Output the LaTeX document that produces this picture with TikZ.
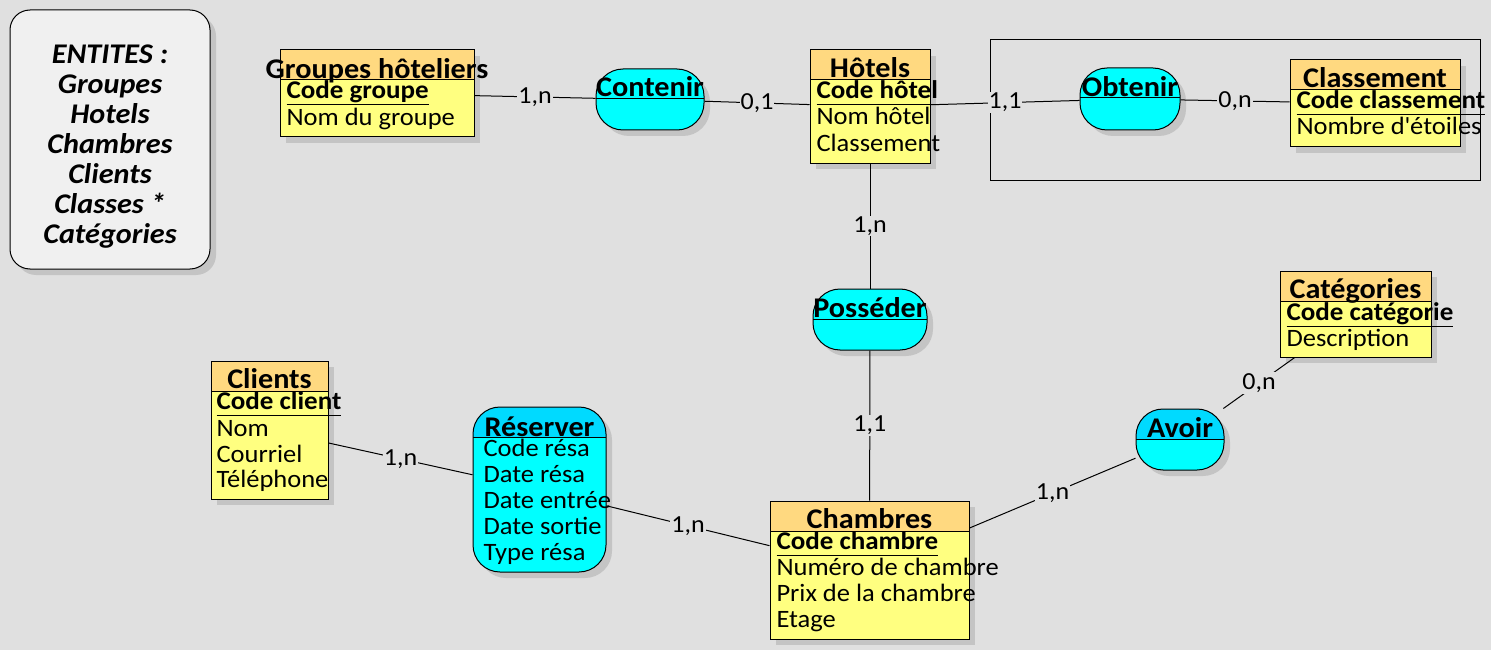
\documentclass[tikz,border=0pt]{standalone}
\usepackage{fontspec}
\setmainfont{Carlito}[FakeStretch=1.06]
\usetikzlibrary{shadows}

\definecolor{fond}{HTML}{E0E0E0}
\definecolor{entete}{HTML}{FFD980}
\definecolor{corps}{HTML}{FFFF80}
\definecolor{cyanrel}{HTML}{00FFFF}
\definecolor{cyantete}{HTML}{00DAFF}
\definecolor{gris}{HTML}{C4C4C4}
\definecolor{notefond}{HTML}{F0F0F0}

\newcommand{\souligne}[1]{\setbox0\hbox{#1}\rlap{\vrule width \wd0 height -5.5pt depth 6.5pt}\box0}

\tikzset{
  ombre/.style={drop shadow={shadow xshift=6pt, shadow yshift=-6pt, fill=gris, opacity=1}},
  entite/.style={draw, fill=corps, inner sep=0pt, ombre,
    path picture={
      \fill[entete] (path picture bounding box.north west) rectangle ([yshift=-30pt]path picture bounding box.north east);
      \draw ([yshift=-30pt]path picture bounding box.north west) -- ([yshift=-30pt]path picture bounding box.north east);}},
  relation/.style={draw, fill=cyanrel, rounded corners=27pt, inner sep=0pt, ombre,
    path picture={
      \fill[#1, sharp corners] (path picture bounding box.north west) rectangle ([yshift=-30pt]path picture bounding box.north east);
      \draw[sharp corners] ([yshift=-30pt]path picture bounding box.north west) -- ([yshift=-30pt]path picture bounding box.north east);}},
  relation/.default=cyanrel,
  notebox/.style={draw, fill=notefond, rounded corners=20pt, ombre},
  titre/.style={anchor=base, inner sep=0pt, font=\fontsize{28.5}{28}\selectfont\bfseries},
  attr/.style={anchor=base west, inner sep=0pt, font=\fontsize{25}{26}\selectfont},
  cle/.style={anchor=base west, inner sep=0pt, font=\fontsize{25.5}{26}\selectfont\bfseries},
  card/.style={midway, fill=fond, inner sep=1pt, font=\fontsize{24.5}{24}\selectfont},
}

\begin{document}
\begin{tikzpicture}[x=1pt, y=-1pt, line width=1pt]
  \fill[fond] (0,0) rectangle (1491,650);

  % liste des entites
  \node[notebox, minimum width=200pt, minimum height=259pt] (entites) at (110,139.5) {};
  \node[anchor=north, align=center, inner sep=0pt, font=\fontsize{28.5}{30}\selectfont\bfseries\itshape] at (110,44) {ENTITES :\\Groupes\\Hotels\\Chambres\\Clients\\Classes *\\Catégories};

  % entites
  \node[entite, minimum width=194pt, minimum height=87pt] (groupes) at (377,93.5) {};
  \node[titre] at (377,79) {Groupes hôteliers};
  \node[cle] at (286,99) {\souligne{Code groupe}};
  \node[attr] at (286,126) {Nom du groupe};

  \node[entite, minimum width=120pt, minimum height=113pt] (hotels) at (870,106.5) {};
  \node[titre] at (870,78) {Hôtels};
  \node[cle] at (816,99) {\souligne{Code hôtel}};
  \node[attr] at (816,125) {Nom hôtel};
  \node[attr] at (816,151) {Classement};

  \node[entite, minimum width=170pt, minimum height=87pt] (classement) at (1375,103.5) {};
  \node[titre] at (1375,88) {Classement};
  \node[cle] at (1296,109) {\souligne{Code classement}};
  \node[attr] at (1296,135) {Nombre d\textquotesingle étoiles};

  \node[entite, minimum width=151pt, minimum height=86pt] (categories) at (1355.5,314) {};
  \node[titre] at (1355.5,298) {Catégories};
  \node[cle] at (1286,320) {\souligne{Code catégorie}};
  \node[attr] at (1286,346) {Description};

  \node[entite, minimum width=117pt, minimum height=138pt] (clients) at (269.5,430) {};
  \node[titre] at (269.5,388) {Clients};
  \node[cle] at (216,409) {\souligne{Code client}};
  \node[attr] at (216,436) {Nom};
  \node[attr] at (216,462) {Courriel};
  \node[attr] at (216,487) {Téléphone};

  \node[entite, minimum width=199pt, minimum height=138pt] (chambres) at (869.5,570) {};
  \node[titre] at (869.5,528) {Chambres};
  \node[cle] at (776,549) {\souligne{Code chambre}};
  \node[attr] at (776,575) {Numéro de chambre};
  \node[attr] at (776,601) {Prix de la chambre};
  \node[attr] at (776,627) {Etage};

  % associations
  \node[relation, minimum width=108pt, minimum height=61pt] (contenir) at (650,99.5) {};
  \node[titre] at (650,97) {Contenir};

  \node[relation, minimum width=100pt, minimum height=62pt] (obtenir) at (1130,99) {};
  \node[titre] at (1130,97) {Obtenir};

  \node[relation, minimum width=114pt, minimum height=61pt] (posseder) at (870,319.5) {};
  \node[titre] at (870,317) {Posséder};

  \node[relation=cyantete, minimum width=88pt, minimum height=61pt] (avoir) at (1180,439.5) {};
  \node[titre] at (1180,437) {Avoir};

  \node[relation=cyantete, minimum width=133pt, minimum height=165pt] (reserver) at (539.5,489.5) {};
  \node[titre] at (539.5,436) {Réserver};
  \node[attr] at (483,456) {Code résa};
  \node[attr] at (483,482) {Date résa};
  \node[attr] at (483,508) {Date entrée};
  \node[attr] at (483,534) {Date sortie};
  \node[attr] at (483,560) {Type résa};

  \draw (990,40) rectangle (1480,180);

  % pattes
  \draw (groupes) -- node[card] {1,n} (contenir);
  \draw (contenir) -- node[card] {0,1} (hotels);
  \draw (hotels) -- node[card] {1,1} (obtenir);
  \draw (obtenir) -- node[card] {0,n} (classement);
  \draw (hotels) -- node[card] {1,n} (posseder);
  \draw (posseder) -- node[card] {1,1} (chambres);
  \draw (clients) -- node[card] {1,n} (reserver);
  \draw (reserver) -- node[card] {1,n} (chambres);
  \draw (chambres) -- node[card] {1,n} (avoir);
  \draw (avoir) -- node[card] {0,n} (categories);
\end{tikzpicture}
\end{document}
